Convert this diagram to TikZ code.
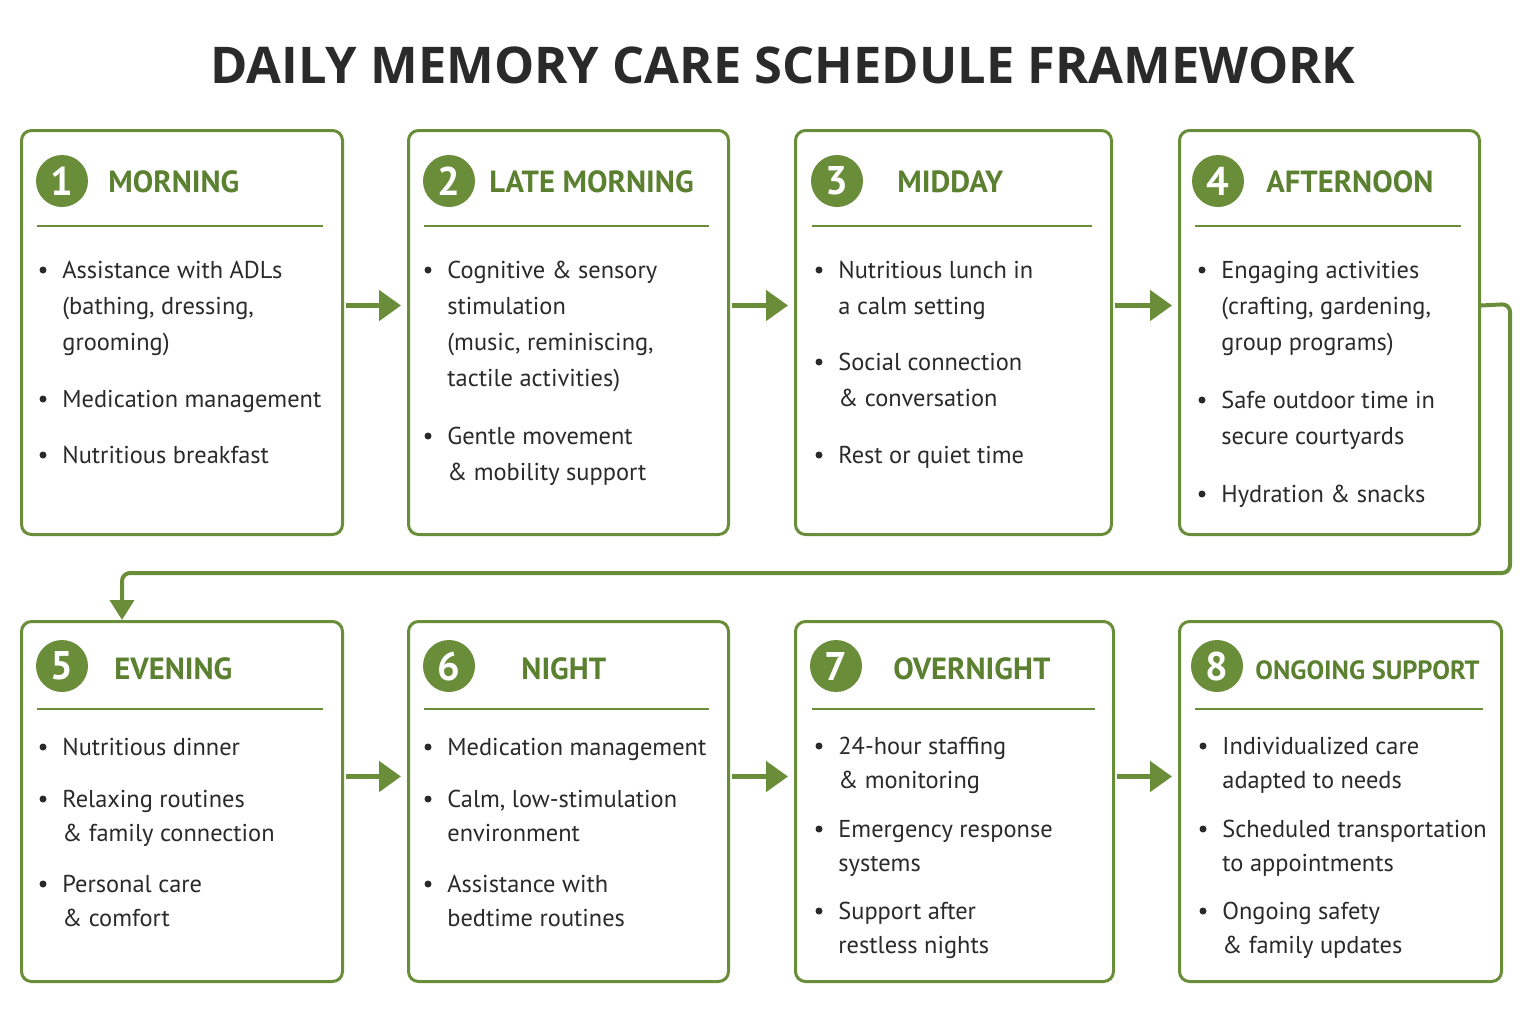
\documentclass[tikz,border=0pt]{standalone}
\usepackage{fontspec}
\setmainfont{PT Sans}
\newfontfamily\titlefont{Open Sans}
\usetikzlibrary{arrows.meta}
\definecolor{gr}{HTML}{6A8D3A}
\definecolor{hd}{HTML}{5B8030}
\definecolor{tx}{HTML}{2A2A2A}
\begin{document}
\begin{tikzpicture}[x=0.5pt,y=-0.5pt,
 box/.style={draw=gr,line width=1.5pt,rounded corners=5pt,fill=white},
 num/.style={circle,fill=gr,minimum size=26pt,inner sep=0pt,text=white,font=\fontsize{20}{20}\selectfont\bfseries},
 hdr/.style={text=hd,font=\fontsize{15.3}{18}\selectfont\bfseries,anchor=west,inner sep=0pt},
 itm/.style={text=tx,anchor=north west,inner sep=0pt,align=left,font=\fontsize{12.2}{18}\selectfont},
 itmb/.style={itm,font=\fontsize{12.2}{17}\selectfont},
 sep/.style={gr,line width=1.1pt},
 arr/.style={gr,line width=2.5pt,-{Triangle[length=11pt,width=15pt]}}]
\useasboundingbox (0,0) rectangle (1536,1023);
\node[text=tx,font=\titlefont\fontsize{25.3}{30}\selectfont\bfseries] (title) at (783,65) {DAILY MEMORY CARE SCHEDULE FRAMEWORK};
% boxes
\node[box,minimum width=160.5pt,minimum height=202pt,anchor=north west] (b1) at (20,129) {};
\node[box,minimum width=160pt,minimum height=202pt,anchor=north west] (b2) at (407,129) {};
\node[box,minimum width=158pt,minimum height=202pt,anchor=north west] (b3) at (794,129) {};
\node[box,minimum width=150pt,minimum height=202pt,anchor=north west] (b4) at (1178,129) {};
\node[box,minimum width=160.5pt,minimum height=180pt,anchor=north west] (b5) at (20,620) {};
\node[box,minimum width=160pt,minimum height=180pt,anchor=north west] (b6) at (407,620) {};
\node[box,minimum width=159pt,minimum height=180pt,anchor=north west] (b7) at (794,620) {};
\node[box,minimum width=161pt,minimum height=180pt,anchor=north west] (b8) at (1178,620) {};
% headers
\node[num] (n1) at (62,181) {1}; \node[hdr] (h1) at (108,182) {MORNING};
\node[num] (n2) at (449,181) {2}; \node[hdr] (h2) at (489,182) {LATE MORNING};
\node[num] (n3) at (837,181) {3}; \node[hdr] (h3) at (897,182) {MIDDAY};
\node[num] (n4) at (1218,181) {4}; \node[hdr] (h4) at (1266,182) {AFTERNOON};
\node[num] (n5) at (62,666) {5}; \node[hdr] (h5) at (114,669) {EVENING};
\node[num] (n6) at (449,666) {6}; \node[hdr] (h6) at (521,669) {NIGHT};
\node[num] (n7) at (836,666) {7}; \node[hdr] (h7) at (893,669) {OVERNIGHT};
\node[num] (n8) at (1217,666) {8}; \node[hdr,font=\fontsize{13.2}{16}\selectfont\bfseries] (h8) at (1255,670) {ONGOING SUPPORT};
\draw[sep] (37,226) -- (323,226); \draw[sep] (424,226) -- (709,226);
\draw[sep] (812,226) -- (1092,226); \draw[sep] (1195,226) -- (1461,226);
\draw[sep] (37,709) -- (323,709); \draw[sep] (424,709) -- (709,709);
\draw[sep] (812,709) -- (1095,709); \draw[sep] (1195,709) -- (1483,709);
% items
\newcommand\bul[5]{\fill[tx] (#2-19,#3) circle (3.5);\node[#5] (#1) at (#2,#3-9) {#4};}
\bul{i11}{62}{270}{Assistance with ADLs\\(bathing, dressing,\\grooming)}{itm}
\bul{i12}{62}{399}{Medication management}{itm}
\bul{i13}{62}{455}{Nutritious breakfast}{itm}
\bul{i21}{447}{270}{Cognitive \& sensory\\stimulation\\(music, reminiscing,\\tactile activities)}{itm}
\bul{i22}{447}{436}{Gentle movement\\\& mobility support}{itm}
\bul{i31}{838}{270}{Nutritious lunch in\\a calm setting}{itm}
\bul{i32}{838}{362}{Social connection\\\& conversation}{itm}
\bul{i33}{838}{455}{Rest or quiet time}{itm}
\bul{i41}{1221}{270}{Engaging activities\\(crafting, gardening,\\group programs)}{itm}
\bul{i42}{1221}{400}{Safe outdoor time in\\secure courtyards}{itm}
\bul{i43}{1221}{494}{Hydration \& snacks}{itm}
\bul{i51}{62}{747}{Nutritious dinner}{itmb}
\bul{i52}{62}{799}{Relaxing routines\\\& family connection}{itmb}
\bul{i53}{62}{884}{Personal care\\\& comfort}{itmb}
\bul{i61}{447}{747}{Medication management}{itmb}
\bul{i62}{447}{799}{Calm, low-stimulation\\environment}{itmb}
\bul{i63}{447}{884}{Assistance with\\bedtime routines}{itmb}
\bul{i71}{838}{746}{24-hour staffing\\\& monitoring}{itmb}
\bul{i72}{838}{829}{Emergency response\\systems}{itmb}
\bul{i73}{838}{911}{Support after\\restless nights}{itmb}
\bul{i81}{1222}{746}{Individualized care\\adapted to needs}{itmb}
\bul{i82}{1222}{829}{Scheduled transportation\\to appointments}{itmb}
\bul{i83}{1222}{911}{Ongoing safety\\\& family updates}{itmb}
% arrows
\draw[arr] ([xshift=1pt,yshift=13.5pt]b1.east) -- ([xshift=-3pt,yshift=13.5pt]b2.west);
\draw[arr] ([xshift=1pt,yshift=13.5pt]b2.east) -- ([xshift=-3pt,yshift=13.5pt]b3.west);
\draw[arr] ([xshift=1pt,yshift=13.5pt]b3.east) -- ([xshift=-3pt,yshift=13.5pt]b4.west);
\draw[arr] ([xshift=1pt,yshift=12.5pt]b5.east) -- ([xshift=-3pt,yshift=12.5pt]b6.west);
\draw[arr] ([xshift=1pt,yshift=12.5pt]b6.east) -- ([xshift=-3pt,yshift=12.5pt]b7.west);
\draw[arr] ([xshift=1pt,yshift=12.5pt]b7.east) -- ([xshift=-3pt,yshift=12.5pt]b8.west);
\coordinate (c1) at (1510,304); \coordinate (c2) at (122,573);
\draw[gr,line width=2pt,rounded corners=4pt,-{Triangle[length=10pt,width=12pt]}] ([yshift=13.5pt]b4.east) -- (c1) |- (c2) -- ([xshift=51pt]b5.north west);
\end{tikzpicture}
\end{document}
